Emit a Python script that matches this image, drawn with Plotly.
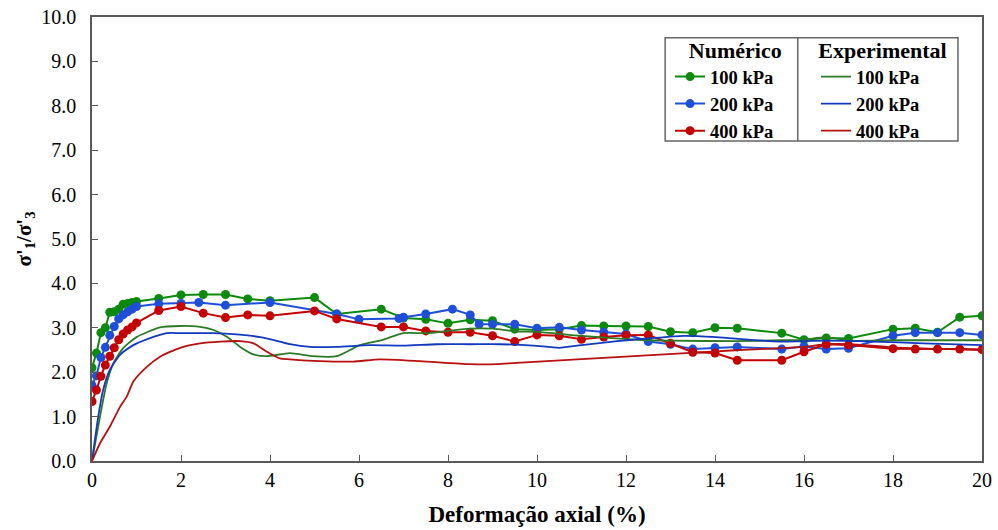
import plotly.graph_objects as go

# Numerical results (markers + lines)
num_x_100 = [0, 0.1, 0.2, 0.3, 0.4, 0.5, 0.6, 0.7, 0.8, 0.9, 1.0, 1.5, 2.0, 2.5, 3.0, 3.5, 4.0,
             5.0, 5.5, 6.5, 7.0, 7.5, 8.0, 8.5, 9.0, 9.5, 10.0, 10.5, 11.0, 11.5, 12.0, 12.5,
             13.0, 13.5, 14.0, 14.5, 15.5, 16.0, 16.5, 17.0, 18.0, 18.5, 19.0, 19.5, 20.0]
num_y_100 = [2.10, 2.43, 2.89, 3.00, 3.35, 3.36, 3.42, 3.53, 3.55, 3.57, 3.59, 3.66, 3.74, 3.75, 3.75, 3.65, 3.61,
             3.68, 3.31, 3.42, 3.22, 3.19, 3.10, 3.18, 3.16, 2.97, 2.95, 2.97, 3.05, 3.04, 3.04, 3.03,
             2.91, 2.89, 3.00, 2.99, 2.88, 2.73, 2.77, 2.76, 2.97, 2.99, 2.90, 3.24, 3.27]

num_x_200 = [0, 0.1, 0.2, 0.3, 0.4, 0.5, 0.6, 0.7, 0.8, 0.9, 1.0, 1.5, 2.0, 2.4, 3.0, 4.0,
             5.5, 6.0, 6.9, 7.0, 7.5, 8.1, 8.5, 8.7, 9.0, 9.5, 10.0, 10.5, 11.0, 11.5, 12.0,
             12.5, 13.0, 13.5, 14.0, 14.5, 15.5, 16.0, 16.5, 17.0, 18.0, 18.5, 19.0, 19.5, 20.0]
num_y_200 = [1.71, 1.92, 2.33, 2.56, 2.83, 3.03, 3.20, 3.29, 3.36, 3.42, 3.48, 3.54, 3.55, 3.57, 3.51, 3.57,
             3.31, 3.19, 3.21, 3.24, 3.31, 3.42, 3.29, 3.08, 3.08, 3.08, 2.99, 3.01, 2.95, 2.90, 2.86,
             2.69, 2.63, 2.52, 2.55, 2.57, 2.52, 2.58, 2.52, 2.54, 2.82, 2.89, 2.89, 2.89, 2.84]

num_x_400 = [0, 0.1, 0.2, 0.3, 0.4, 0.5, 0.6, 0.7, 0.8, 0.9, 1.0, 1.5, 2.0, 2.5, 3.0, 3.5, 4.0,
             5.0, 5.5, 6.5, 7.0, 7.5, 8.0, 8.5, 9.0, 9.5, 10.0, 10.5, 11.0, 11.5, 12.0, 12.5,
             13.0, 13.5, 14.0, 14.5, 15.5, 16.0, 16.5, 17.0, 18.0, 18.5, 19.0, 19.5, 20.0]
num_y_400 = [1.34, 1.60, 1.91, 2.16, 2.36, 2.55, 2.73, 2.86, 2.95, 3.02, 3.11, 3.39, 3.48, 3.33, 3.23, 3.29, 3.27,
             3.38, 3.20, 3.02, 3.02, 2.93, 2.90, 2.90, 2.82, 2.69, 2.84, 2.82, 2.74, 2.79, 2.83, 2.84,
             2.65, 2.45, 2.43, 2.27, 2.27, 2.46, 2.63, 2.61, 2.53, 2.52, 2.52, 2.52, 2.51]

# Experimental curves (solid lines)
exp_x_100 = [0, 0.18, 0.33, 0.48, 0.70, 1.0, 1.53, 1.98, 2.35, 2.73, 3.03, 3.33, 3.63, 3.93, 4.45,
             4.97, 5.5, 6.02, 6.54, 6.99, 7.52, 8.0, 8.49, 9.0, 9.52, 10.0, 11.0, 12.5, 13.0, 14.5,
             15.5, 16.0, 16.47, 17.05, 18.0, 20.0]
exp_y_100 = [0.0, 1.00, 1.75, 2.20, 2.54, 2.79, 3.01, 3.04, 3.03, 2.95, 2.80, 2.57, 2.40, 2.36, 2.43,
             2.36, 2.36, 2.61, 2.73, 2.88, 2.88, 2.93, 2.98, 2.98, 2.92, 2.91, 2.82, 2.72, 2.71, 2.70,
             2.72, 2.73, 2.79, 2.71, 2.72, 2.72]

exp_x_200 = [0, 0.14, 0.25, 0.40, 0.63, 0.93, 1.23, 1.68, 1.98, 2.73, 3.25, 3.78, 4.22, 4.45, 4.9,
             5.5, 6.25, 7.0, 7.74, 8.49, 9.17, 9.92, 10.5, 11.0, 11.8, 12.5, 13.29, 14.03, 14.79,
             15.46, 16.5, 17.55, 18.68, 20.0]
exp_y_200 = [0.0, 1.00, 1.60, 2.05, 2.39, 2.61, 2.74, 2.88, 2.88, 2.88, 2.85, 2.79, 2.69, 2.63, 2.57,
             2.57, 2.61, 2.60, 2.63, 2.63, 2.63, 2.60, 2.55, 2.61, 2.70, 2.76, 2.82, 2.79, 2.73,
             2.69, 2.71, 2.69, 2.65, 2.61]

exp_x_400 = [0, 0.18, 0.40, 0.63, 0.78, 0.93, 1.23, 1.53, 1.98, 2.43, 2.88, 3.33, 3.63, 3.93, 4.22,
             4.45, 5.12, 5.87, 6.47, 7.37, 8.49, 9.1, 9.54, 11.98, 14.56, 15.98, 16.5, 17.05, 18.0, 20.0]
exp_y_400 = [0.0, 0.40, 0.77, 1.22, 1.45, 1.79, 2.12, 2.35, 2.55, 2.65, 2.69, 2.70, 2.65, 2.46, 2.31,
             2.29, 2.25, 2.24, 2.29, 2.25, 2.18, 2.18, 2.21, 2.35, 2.50, 2.57, 2.63, 2.63, 2.56, 2.50]

labels = ["100 kPa", "200 kPa", "400 kPa"]
num_colors = ["#0b8a0b", "#1f4fd8", "#c40000"]
exp_colors = ["#2c7a26", "#1238c0", "#b80f0f"]

SERIF = "Liberation Serif"

fig = go.Figure()

num_sets = [(num_x_100, num_y_100), (num_x_200, num_y_200), (num_x_400, num_y_400)]
exp_sets = [(exp_x_100, exp_y_100), (exp_x_200, exp_y_200), (exp_x_400, exp_y_400)]

for (xs, ys), lab, col in zip(num_sets, labels, num_colors):
    fig.add_trace(go.Scatter(
        x=xs, y=ys, mode="lines+markers", name=lab, legend="legend",
        line=dict(color=col, width=2),
        marker=dict(color=col, size=9),
    ))

for (xs, ys), lab, col in zip(exp_sets, labels, exp_colors):
    fig.add_trace(go.Scatter(
        x=xs, y=ys, mode="lines", name=lab, legend="legend2",
        line=dict(color=col, width=1.8, shape="spline", smoothing=0.6),
    ))

legend_common = dict(
    bgcolor="rgba(255,255,255,0)",
    borderwidth=0,
    font=dict(family=SERIF, size=18.5, color="#000", weight="bold"),
    xanchor="left", yanchor="top",
    itemwidth=30,
    tracegroupgap=0,
)

fig.update_layout(
    width=998, height=530,
    margin=dict(l=92, r=16, t=17, b=69, autoexpand=False),
    paper_bgcolor="white", plot_bgcolor="white",
    font=dict(family=SERIF, size=20, color="#000"),
    showlegend=True,
    legend=dict(
        x=0.6495, y=0.972,
        title=dict(text="&nbsp;&nbsp;&nbsp;Numérico", side="top center",
                   font=dict(family=SERIF, size=22, weight="bold")),
        **legend_common,
    ),
    legend2=dict(
        x=0.8135, y=0.972,
        title=dict(text="Experimental", side="top center",
                   font=dict(family=SERIF, size=22, weight="bold")),
        **legend_common,
    ),
    xaxis=dict(
        range=[0, 20], dtick=2, tick0=0, automargin=False,
        showline=True, linecolor="#595959", linewidth=1.5, mirror=True,
        ticks="inside", ticklen=6, tickcolor="#595959",
        showgrid=False, zeroline=False,
        tickfont=dict(family=SERIF, size=20),
        title=dict(text="Deformação axial (%)",
                   font=dict(family=SERIF, size=23, weight="bold"), standoff=16),
    ),
    yaxis=dict(
        range=[0, 10], dtick=1, tick0=0, tickformat=".1f", automargin=False,
        showline=True, linecolor="#595959", linewidth=1.5, mirror=True,
        ticks="inside", ticklen=6, tickcolor="#595959", ticklabelstandoff=10,
        showgrid=False, zeroline=False,
        tickfont=dict(family=SERIF, size=20),
        title=dict(text="σ'<sub>1</sub>/σ'<sub>3</sub>",
                   font=dict(family=SERIF, size=21, weight="bold"), standoff=4),
    ),
)

# Frame around the two legend columns, with a divider between them
fig.add_shape(type="rect", xref="paper", yref="paper",
              x0=0.644, x1=0.973, y0=0.721, y1=0.953,
              line=dict(color="#666666", width=1.5), fillcolor="rgba(0,0,0,0)")
fig.add_shape(type="line", xref="paper", yref="paper",
              x0=0.793, x1=0.793, y0=0.721, y1=0.953,
              line=dict(color="#666666", width=1.5))

fig.write_html("out.html")
